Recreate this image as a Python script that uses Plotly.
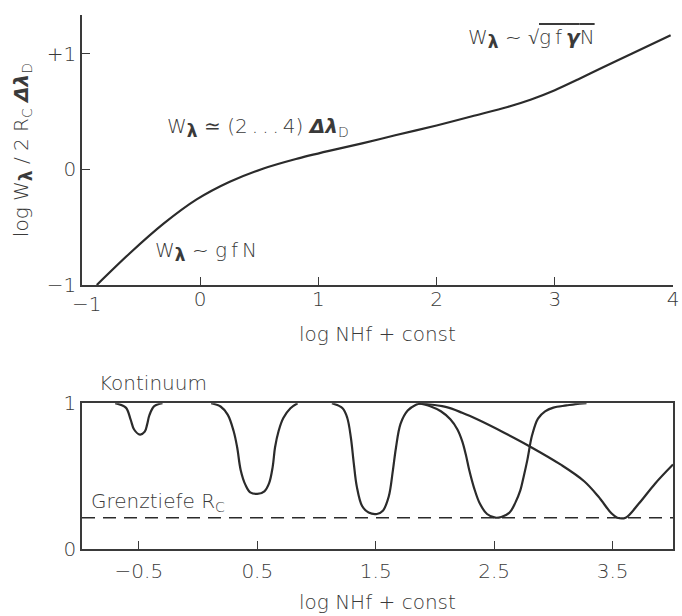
import plotly.graph_objects as go

# Curve of growth: log W_lambda / (2 Rc dlambda_D) vs log NHf + const
cog_x = [-0.875, -0.6, -0.31, -0.03, 0.25, 0.53, 0.81, 1.09, 1.37, 1.65,
         2.0, 2.3, 2.6, 2.8, 3.0, 3.2, 3.4, 3.65, 3.98]
cog_y = [-1.0, -0.73, -0.47, -0.26, -0.107, 0.006, 0.09, 0.16, 0.225, 0.295,
         0.38, 0.46, 0.54, 0.605, 0.685, 0.78, 0.88, 1.0, 1.16]

# Line profiles of increasing strength (residual intensity vs position)
p1_x = [-0.70, -0.61, -0.57, -0.54, -0.49, -0.45, -0.43, -0.41, -0.37, -0.30]
p1_y = [1.0, 0.97, 0.89, 0.82, 0.785, 0.805, 0.855, 0.92, 0.98, 1.0]

p2_x = [0.11, 0.19, 0.25, 0.30, 0.33, 0.36, 0.40, 0.44, 0.50, 0.56, 0.60,
        0.63, 0.65, 0.68, 0.72, 0.78, 0.84]
p2_y = [1.0, 0.978, 0.922, 0.81, 0.698, 0.541, 0.44, 0.389, 0.378, 0.396,
        0.452, 0.564, 0.698, 0.81, 0.899, 0.966, 1.0]

p3_x = [1.13, 1.22, 1.26, 1.29, 1.315, 1.34, 1.385, 1.44, 1.51, 1.56, 1.61,
        1.645, 1.67, 1.71, 1.77, 1.84, 1.88]
p3_y = [1.0, 0.966, 0.899, 0.765, 0.586, 0.43, 0.295, 0.25, 0.24, 0.262, 0.36,
        0.54, 0.69, 0.86, 0.95, 0.99, 1.0]

p4_x = [1.86, 1.96, 2.05, 2.13, 2.19, 2.23, 2.26, 2.29, 2.33, 2.38, 2.44,
        2.51, 2.56, 2.63, 2.68, 2.72, 2.75, 2.78, 2.82, 2.87, 2.93, 3.00,
        3.11, 3.22, 3.28]
p4_y = [1.0, 0.98, 0.945, 0.89, 0.82, 0.74, 0.65, 0.54, 0.42, 0.31, 0.24,
        0.215, 0.22, 0.25, 0.32, 0.40, 0.50, 0.61, 0.78, 0.895,
        0.945, 0.97, 0.985, 0.998, 1.0]

p5_x = [1.86, 2.09, 2.23, 2.37, 2.58, 2.79, 3.07, 3.26, 3.38, 3.49, 3.54,
        3.61, 3.72, 3.86, 4.01]
p5_y = [1.0, 0.975, 0.935, 0.885, 0.80, 0.709, 0.575, 0.465, 0.36, 0.245,
        0.215, 0.215, 0.31, 0.45, 0.58]

# Limiting depth R_c
rc_level = 0.215

top_ticks = [0, 1, 2, 3, 4]
top_ticktext = ["0", "1", "2", "3", "4"]
top_yticks = [-1, 0, 1]
top_yticktext = ["\u22121", "0", "+1"]
bot_ticks = [-0.5, 0.5, 1.5, 2.5, 3.5]
bot_ticktext = ["\u22120.5", "0.5", "1.5", "2.5", "3.5"]
bot_yticks = [0, 1]
bot_yticktext = ["0", "1"]

FONT = "DejaVu Sans"
INK = "#2b2b2b"
TXT = "#3a3a3a"

fig = go.Figure()

fig.add_trace(go.Scatter(x=cog_x, y=cog_y, mode="lines", line_shape="spline",
                         line=dict(color=INK, width=2.2, smoothing=0.8),
                         xaxis="x", yaxis="y", hoverinfo="skip"))

for px, py in [(p1_x, p1_y), (p2_x, p2_y), (p3_x, p3_y), (p4_x, p4_y), (p5_x, p5_y)]:
    fig.add_trace(go.Scatter(x=px, y=py, mode="lines", line_shape="spline",
                             line=dict(color=INK, width=2.2),
                             xaxis="x2", yaxis="y2", hoverinfo="skip"))

fig.add_trace(go.Scatter(x=[-0.98, 4.01], y=[rc_level, rc_level], mode="lines",
                         line=dict(color=INK, width=1.5, dash="13px,8px"),
                         xaxis="x2", yaxis="y2", hoverinfo="skip"))

tick_font = dict(family=FONT, size=20, color=TXT, weight=300)
axis_common = dict(showgrid=False, zeroline=False, showline=True,
                   linecolor="#3a3a3a", linewidth=1.5,
                   tickcolor="#3a3a3a", tickwidth=1.2,
                   tickfont=tick_font)

fig.update_layout(
    width=682, height=616,
    margin=dict(l=82, r=7, t=3, b=67),
    paper_bgcolor="white", plot_bgcolor="white",
    showlegend=False,
    font=dict(family=FONT, size=20, color=TXT, weight=300),
    xaxis=dict(domain=[0, 1], range=[-1, 4], anchor="y",
               tickmode="array", tickvals=top_ticks, ticktext=top_ticktext,
               ticks="inside", ticklen=8, ticklabelstandoff=-5, **axis_common),
    yaxis=dict(domain=[0.4945, 1], range=[-1, 1.336], anchor="x",
               tickmode="array", tickvals=top_yticks, ticktext=top_yticktext,
               ticks="inside", ticklen=8, **axis_common),
    xaxis2=dict(domain=[0, 1], range=[-0.98, 4.01], anchor="y2",
                tickmode="array", tickvals=bot_ticks, ticktext=bot_ticktext,
                ticks="inside", ticklen=8, ticklabelstandoff=3, mirror=True,
                **axis_common),
    yaxis2=dict(domain=[0, 0.2729], range=[0, 1], anchor="x2",
                tickmode="array", tickvals=bot_yticks, ticktext=bot_yticktext,
                ticks="", mirror=True, **axis_common),
)

lam = "<span style='font-size:17px'><b>\u03bb</b></span>"
ann_font = dict(family=FONT, size=20, color=TXT, weight=300)
annotations = [
    # corner tick label of the upper x axis, set off to the right of the y axis
    dict(text="\u22121", xref="x", yref="paper", x=-0.96, y=(549 - 299) / 546,
         xanchor="center", yanchor="middle", showarrow=False, font=ann_font),
    # axis titles
    dict(text="log W<sub>" + lam + "</sub> / 2 R<sub>C</sub> <b><i>\u0394\u03bb</i></b><sub>D</sub>",
         xref="paper", yref="y domain", x=-0.0995, y=0.5, textangle=-90,
         xanchor="center", yanchor="middle", showarrow=False, font=ann_font),
    dict(text="log NHf + const", xref="x domain", yref="paper",
         x=0.5, y=(549 - 329) / 546, xanchor="center",
         yanchor="middle", showarrow=False, font=ann_font),
    dict(text="log NHf + const", xref="x domain", yref="paper",
         x=0.5, y=-(603 - 549) / 546, xanchor="center",
         yanchor="middle", showarrow=False, font=ann_font),
    # regime labels on the curve of growth
    dict(text="W<sub>" + lam + "</sub> ~ g\u2009f\u2009N", xref="x", yref="y",
         x=-0.40, y=-0.71, xanchor="left", yanchor="middle",
         showarrow=False, font=ann_font),
    dict(text="W<sub>" + lam + "</sub> \u2243 (2\u2009.\u2009.\u2009.\u20094) <b><i>\u0394\u03bb</i></b><sub>D</sub>",
         xref="x", yref="y", x=-0.30, y=0.36, xanchor="left", yanchor="middle",
         showarrow=False, font=ann_font),
    dict(text="W<sub>" + lam + "</sub> ~ \u221a<span style='text-decoration:overline'>g\u2009f\u2009<b><i>\u03b3</i></b>N</span>",
         xref="x", yref="y", x=2.25, y=1.13, xanchor="left", yanchor="middle",
         showarrow=False, font=ann_font),
    # labels on the profile panel
    dict(text="Kontinuum", xref="paper", yref="paper",
         x=(97 - 82) / 593, y=(549 - 379) / 546, xanchor="left", yanchor="middle",
         showarrow=False, font=ann_font),
    dict(text="Grenztiefe R<sub>C</sub>", xref="paper", yref="paper",
         x=(89 - 82) / 593, y=(549 - 501) / 546, xanchor="left", yanchor="middle",
         showarrow=False, font=ann_font),
]
fig.update_layout(annotations=annotations)

fig.write_html("out.html")
